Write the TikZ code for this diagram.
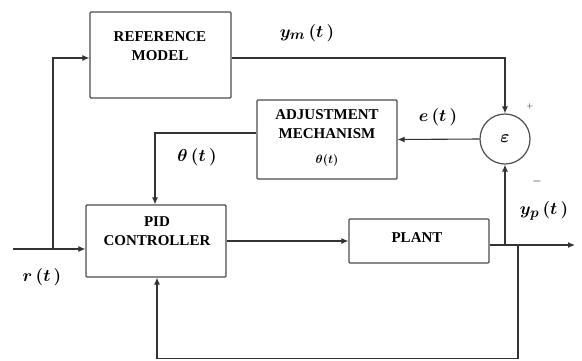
\documentclass[tikz,border=0pt]{standalone}
\usepackage{fontspec}
\setmainfont{Liberation Serif}
\usetikzlibrary{arrows.meta}
\begin{document}
\begin{tikzpicture}[x=1pt,y=-1pt,
  blk/.style={draw=black!70, line width=1.2pt, rounded corners=1pt, inner sep=0pt},
  btxt/.style={font=\fontsize{15}{18.5}\selectfont\bfseries, align=center, inner sep=0pt},
  mlab/.style={font=\fontsize{19}{22}\selectfont\boldmath, inner sep=0pt},
  wire/.style={draw=black!80, line width=1.1pt},
  arr/.style={wire, -{Latex[length=7pt,width=6pt]}}]
\useasboundingbox (0,0) rectangle (582,360);
% blocks
\node[blk, minimum width=141pt, minimum height=86pt] (ref) at (160.5,55) {};
\node[btxt] (reftxt) at (160,46) {REFERENCE\\MODEL};
\node[blk, minimum width=140pt, minimum height=79pt] (adj) at (327,139.5) {};
\node[btxt] (adjtxt) at (327,124) {ADJUSTMENT\\MECHANISM};
\node[inner sep=0pt, font=\fontsize{12}{14}\selectfont\boldmath] (adjth) at (327,160) {$\theta(t)$};
\node[blk, minimum width=140pt, minimum height=72pt] (pid) at (156,241) {};
\node[btxt] (pidtxt) at (157,231) {PID\\CONTROLLER};
\node[blk, minimum width=140pt, minimum height=44pt] (plant) at (419,241) {};
\node[btxt] (planttxt) at (417,238) {PLANT};
\node[draw=black!70, line width=1.2pt, circle, minimum size=50pt, inner sep=0pt,
      font=\fontsize{17}{18}\selectfont\boldmath] (sum) at (505,139) {$\varepsilon$};
% coordinates
\coordinate (rin) at (13,249);
\coordinate (rj) at (53,249);
\coordinate (pj) at (505,245);
\coordinate (fj) at (518,245);
\coordinate (out) at (575,245);
\coordinate (fb1) at (518,358.5);
\coordinate (fb2) at (157,358.5);
\coordinate (th1) at (155,133);
\coordinate (ym1) at (505,58);
% connectors
\draw[arr] (rin) -- (rj) -- ([yshift=-8pt]pid.west);
\draw[arr] (rj) |- ([yshift=-3pt]ref.west);
\draw[arr] ([yshift=-3pt]ref.east) -- (ym1) -- (sum.north);
\draw[arr] (sum.west) -- (adj.east);
\draw[arr] ([yshift=6.5pt]adj.west) -- (th1) -- (th1 |- pid.north);
\draw[arr] (pid.east) -- (plant.west);
\draw[arr] ([yshift=-4pt]plant.east) -- (out);
\draw[arr] (pj) -- (sum.south);
\draw[arr] (fj) -- (fb1) -- (fb2) -- (fb2 |- pid.south);
% labels
\node[mlab] (ymlab) at (307,33) {$y_m\,(t\,)$};
\node[mlab] (elab) at (438,117) {$e\,(t\,)$};
\node[mlab] (thlab) at (197,157) {$\theta\,(t\,)$};
\node[mlab] (rlab) at (42,277) {$r\,(t\,)$};
\node[mlab] (yplab) at (544,211) {$y_p\,(t\,)$};
\node[inner sep=0pt, font=\fontsize{8}{9}\selectfont] (plus) at (530,106) {$+$};
\node[inner sep=0pt, font=\fontsize{13}{14}\selectfont] (minus) at (537,181) {$-$};
\end{tikzpicture}
\end{document}
